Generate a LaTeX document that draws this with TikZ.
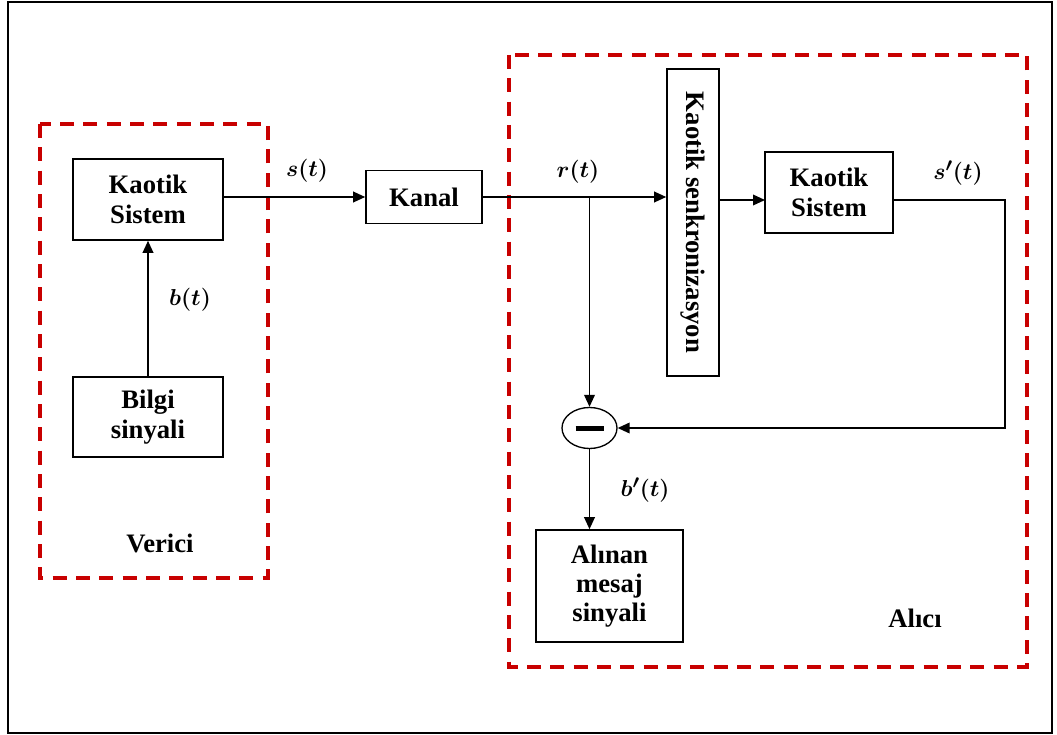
\documentclass[tikz,border=0pt]{standalone}
\usepackage{fontspec}
\setmainfont{Liberation Serif}
\usetikzlibrary{arrows.meta,shapes.geometric}
\definecolor{kirmizi}{RGB}{200,0,0}

\begin{document}
\begin{tikzpicture}[x=0.75pt, y=-0.75pt, >={Triangle[length=9pt,width=8pt]}, line width=1.1pt,
    every node/.style={font=\fontsize{20}{22}\selectfont\bfseries},
    blok/.style 2 args={draw, line width=1.2pt, align=center, inner sep=0pt,
        minimum width=#1*0.75pt, minimum height=#2*0.75pt},
    bolge/.style={draw=kirmizi, line width=2.7pt, dash pattern=on 10.5pt off 7pt},
    etiket/.style={font=\fontsize{19}{20}\selectfont\mathversion{bold}}]
    \useasboundingbox (0,0) rectangle (1057,735);

    % cerceve
    \draw[line width=1.5pt] (8,2) rectangle (1052,733);

    % verici ve alici bolgeleri
    \draw[bolge] (40,124) rectangle (268,578);
    \draw[bolge] (509,55) rectangle (1027,667);
    \node (verici) at (160,543) {Verici};
    \node (alici) at (915,618) {Alıcı};

    % bloklar
    \node[blok={150}{81}] (ks1) at (148,199.5) {Kaotik\\Sistem};
    \node[blok={150}{80}] (bilgi) at (148,417) {Bilgi\\sinyali};
    \node[blok={116}{53}] (kanal) at (424,197) {Kanal};
    \node[blok={307}{52}, rotate=-90] (senk) at (693,222.5) {Kaotik senkronizasyon};
    \node[blok={128}{81}] (ks2) at (829,192.5) {Kaotik\\Sistem};
    \node[draw, ellipse, line width=1pt, inner sep=0pt,
        minimum width=55*0.75pt, minimum height=41*0.75pt] (eksi) at (589.5,428) {\rule{21pt}{3.75pt}};
    \node[blok={147}{112}] (alinan) at (609.5,586) {Alınan\\mesaj\\sinyali};

    % isaret etiketleri
    \node[etiket] (bt) at (190,300) {$b(t)$};
    \node[etiket] (st) at (307,171) {$s(t)$};
    \node[etiket] (rt) at (578,172) {$r(t)$};
    \node[etiket] (s2t) at (958,173) {$s'(t)$};
    \node[etiket] (b2t) at (645,490) {$b'(t)$};

    % baglantilar
    \coordinate (dal) at (589.5,197);
    \coordinate (s2gir) at (765,200);
    \coordinate (geri) at (1005,200);
    \draw[->] (bilgi.north) -- (ks1.south);
    \draw[->] (ks1.east |- kanal.west) -- (kanal.west);
    \draw[->] (kanal.east) -- (kanal.east -| senk.south);
    \draw[->] (dal) -- (eksi.north);
    \draw[->] (s2gir -| senk.north) -- (s2gir);
    \draw[->] (s2gir -| ks2.east) -- (geri) |- (eksi.east);
    \draw[->] (eksi.south) -- (eksi.south |- alinan.north);
\end{tikzpicture}
\end{document}
